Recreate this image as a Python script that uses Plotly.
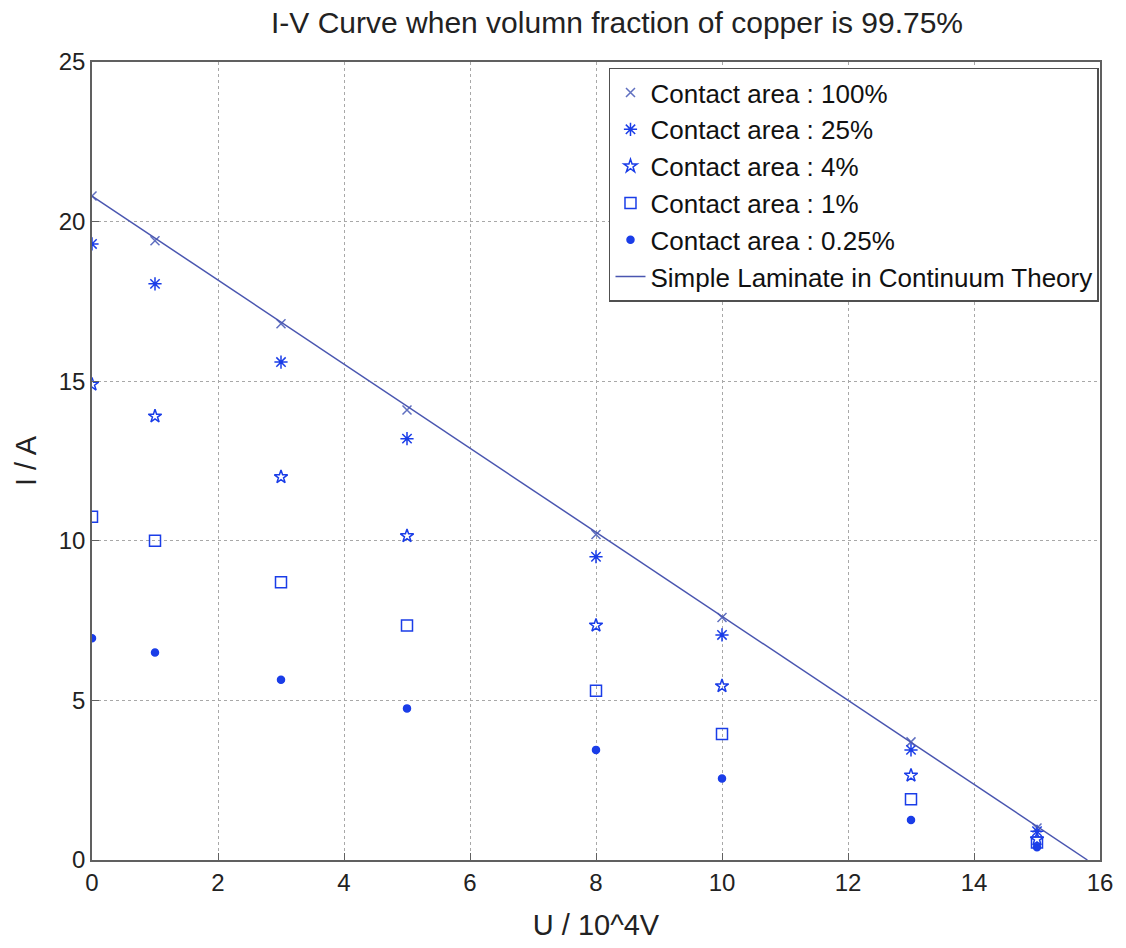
import plotly.graph_objects as go

U = [0, 1, 3, 5, 8, 10, 13, 15]
I_100 = [20.8, 19.4, 16.8, 14.1, 10.2, 7.6, 3.7, 1.0]
I_25 = [19.3, 18.05, 15.6, 13.2, 9.5, 7.05, 3.45, 0.9]
I_4 = [14.9, 13.9, 12.0, 10.15, 7.35, 5.45, 2.65, 0.65]
I_1 = [10.75, 10.0, 8.7, 7.35, 5.3, 3.95, 1.9, 0.55]
I_025 = [6.95, 6.5, 5.65, 4.75, 3.45, 2.55, 1.25, 0.4]
theory_U = [0, 15.8]
theory_I = [20.8, 0]

blue = "#1a3de8"
font = "Liberation Sans, Arial, sans-serif"

fig = go.Figure()
series = [
    ("Contact area : 100%", I_100, "x-thin-open", 9, "#6070c0"),
    ("Contact area : 25%", I_25, "asterisk-open", 11, blue),
    ("Contact area : 4%", I_4, "star-open", 10, blue),
    ("Contact area : 1%", I_1, "square-open", 11, blue),
    ("Contact area : 0.25%", I_025, "circle", 7, blue),
]
for name, ys, sym, size, col in series:
    fig.add_trace(go.Scatter(
        x=U, y=ys, mode="markers", name=name,
        marker=dict(symbol=sym, size=size, color=col,
                    line=dict(color=col, width=1.5)),
    ))
fig.add_trace(go.Scatter(
    x=theory_U, y=theory_I, mode="lines",
    name="Simple Laminate in Continuum Theory",
    line=dict(color="#4a56b0", width=1.5),
))

axis_common = dict(
    showgrid=True, gridcolor="#a8a8a8", griddash="dot", gridwidth=1,
    showline=True, linecolor="#606060", linewidth=1.5, mirror=True,
    ticks="inside", ticklen=7, tickcolor="#606060",
    zeroline=False, tickfont=dict(size=24, color="#222", family=font),
)
fig.update_xaxes(range=[0, 16], dtick=2, title=dict(text="U / 10^4V", font=dict(size=29, family=font, color="#222"), standoff=20), **axis_common)
fig.update_yaxes(range=[0, 25], dtick=5, title=dict(text="I / A", font=dict(size=29, family=font, color="#222"), standoff=14), **axis_common)

fig.update_layout(
    width=1126, height=948,
    margin=dict(l=92, r=26, t=62, b=88),
    paper_bgcolor="white", plot_bgcolor="white",
    font=dict(family=font, color="#222"),
    title=dict(text="I-V Curve when volumn fraction of copper is 99.75%",
               x=0.548, xanchor="center", y=0.976, yanchor="middle",
               font=dict(size=30, family=font, color="#222")),
    legend=dict(x=0.999, y=0.993, xanchor="right", yanchor="top",
                bgcolor="white", bordercolor="#505050", borderwidth=1.5,
                font=dict(size=26, family=font, color="#111"),
                tracegroupgap=0, itemwidth=30),
    showlegend=True,
)

fig.write_html("out.html")
